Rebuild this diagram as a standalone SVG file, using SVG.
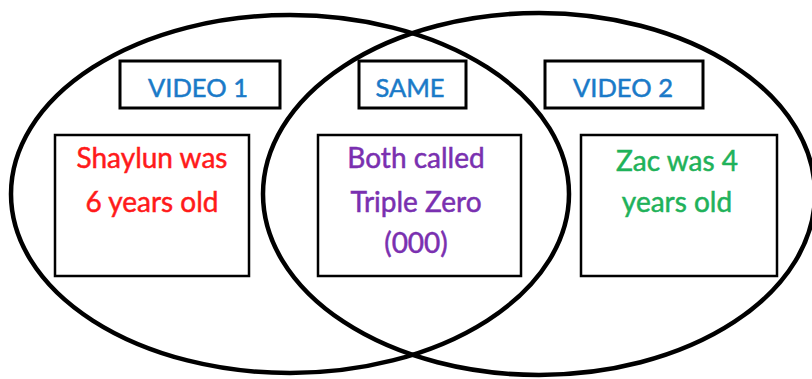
<svg xmlns="http://www.w3.org/2000/svg" width="812" height="379" viewBox="0 0 812 379">
  <style>
    .set { fill: none; stroke: #000; stroke-width: 4.5; }
    .head { fill: #fff; stroke: #000; stroke-width: 3; }
    .card { fill: #fff; stroke: #000; stroke-width: 2.5; }
    .t { font-family: Lato, "Open Sans", "Liberation Sans", sans-serif; text-anchor: middle; stroke-width: 0.5; }
    .h { font-size: 25.5px; fill: #1a7ac8; stroke: #1a7ac8; }
    .b { font-size: 28px; }
    .red { fill: #ff1a1a; stroke: #ff1a1a; }
    .purple { fill: #7a30b0; stroke: #7a30b0; }
    .green { fill: #1fb25a; stroke: #1fb25a; }
  </style>
  <rect width="812" height="379" fill="#fff"/>

  <g id="video1-header">
    <rect class="head" x="120" y="61" width="160" height="47"/>
    <text class="t h" x="198" y="97">VIDEO 1</text>
  </g>
  <g id="same-header">
    <rect class="head" x="359" y="61" width="107" height="47"/>
    <text class="t h" x="410" y="97">SAME</text>
  </g>
  <g id="video2-header">
    <rect class="head" x="545" y="61" width="158" height="47"/>
    <text class="t h" x="623" y="97">VIDEO 2</text>
  </g>

  <g id="video1-card">
    <rect class="card" x="55" y="135" width="194" height="141"/>
    <text class="t b red" x="152" y="168">Shaylun was</text>
    <text class="t b red" x="152" y="212">6 years old</text>
  </g>
  <g id="same-card">
    <rect class="card" x="318" y="135" width="203" height="141"/>
    <text class="t b purple" x="416" y="168">Both called</text>
    <text class="t b purple" x="416" y="212">Triple Zero</text>
    <text class="t b purple" x="416" y="253">(000)</text>
  </g>
  <g id="video2-card">
    <rect class="card" x="581" y="135" width="196" height="141"/>
    <text class="t b green" x="677" y="171">Zac was 4</text>
    <text class="t b green" x="677" y="212">years old</text>
  </g>

  <g id="sets">
    <ellipse class="set" cx="290" cy="194" rx="279" ry="179"/>
    <ellipse class="set" cx="539" cy="194" rx="276" ry="181"/>
  </g>
</svg>
